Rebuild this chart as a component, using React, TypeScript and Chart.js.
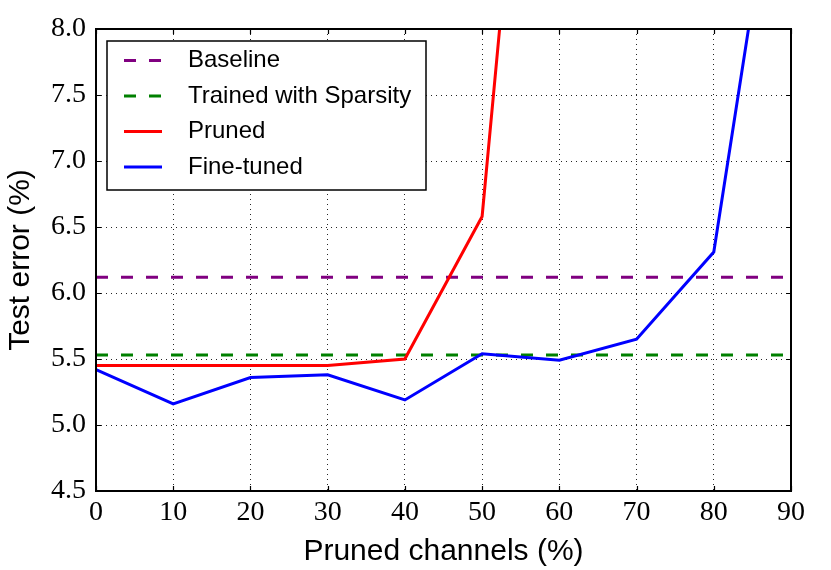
import React, { useEffect, useRef } from 'react';
import { Chart, registerables } from 'chart.js';
Chart.register(...registerables);

const channels = [0, 10, 20, 30, 40, 50, 60, 70, 80, 90];
const baseline = [6.12, 6.12, 6.12, 6.12, 6.12, 6.12, 6.12, 6.12, 6.12, 6.12];
const sparsity = [5.53, 5.53, 5.53, 5.53, 5.53, 5.53, 5.53, 5.53, 5.53, 5.53];
const pruned = [5.45, 5.45, 5.45, 5.45, 5.5, 6.58, 12.85, null, null, null];
const fineTuned = [5.42, 5.16, 5.36, 5.38, 5.19, 5.54, 5.49, 5.65, 6.31, 10.07];
const seriesLabels = ['Baseline', 'Trained with Sparsity', 'Pruned', 'Fine-tuned'];
const xLabel = 'Pruned channels (%)';
const yLabel = 'Test error (%)';

const toPts = (arr: (number | null)[]) => channels.map((x, i) => ({ x, y: arr[i] }));

const framePlugin = {
  id: 'frameTicks',
  afterDatasetsDraw(chart: any) {
    const { ctx, chartArea: a, scales } = chart;
    ctx.save();
    ctx.strokeStyle = '#000';
    ctx.lineWidth = 1.2;
    const tl = 5;
    scales.x.ticks.forEach((t: any) => {
      const px = Math.round(scales.x.getPixelForValue(t.value)) + 0.5;
      ctx.beginPath();
      ctx.moveTo(px, a.bottom); ctx.lineTo(px, a.bottom - tl);
      ctx.moveTo(px, a.top); ctx.lineTo(px, a.top + tl);
      ctx.stroke();
    });
    scales.y.ticks.forEach((t: any) => {
      const py = Math.round(scales.y.getPixelForValue(t.value)) + 0.5;
      ctx.beginPath();
      ctx.moveTo(a.left, py); ctx.lineTo(a.left + tl, py);
      ctx.moveTo(a.right, py); ctx.lineTo(a.right - tl, py);
      ctx.stroke();
    });
    ctx.lineWidth = 2;
    ctx.strokeRect(a.left, a.top, a.right - a.left, a.bottom - a.top);
    ctx.restore();
  },
  afterDraw(chart: any) {
    const { ctx, chartArea: a } = chart;
    const x0 = a.left + 11, y0 = a.top + 12, w = 319, h = 149;
    ctx.save();
    ctx.fillStyle = '#fff';
    ctx.fillRect(x0, y0, w, h);
    ctx.strokeStyle = '#000';
    ctx.lineWidth = 1.5;
    ctx.strokeRect(x0, y0, w, h);
    chart.data.datasets.forEach((ds: any, i: number) => {
      const y = y0 + 19.5 + i * 35.5;
      ctx.setLineDash(ds.borderDash || []);
      ctx.strokeStyle = ds.borderColor;
      ctx.lineWidth = ds.borderWidth;
      ctx.beginPath();
      ctx.moveTo(x0 + 17, y);
      ctx.lineTo(x0 + 55, y);
      ctx.stroke();
      ctx.setLineDash([]);
      ctx.fillStyle = '#000';
      ctx.font = '24px "Liberation Sans", Arial, sans-serif';
      ctx.textBaseline = 'middle';
      ctx.textAlign = 'left';
      ctx.fillText(ds.label, x0 + 81, y);
    });
    ctx.restore();
  },
};

export default function App() {
  const ref = useRef<HTMLCanvasElement>(null);
  useEffect(() => {
    if (!ref.current) return;
    const tickFont = { family: '"Liberation Serif", serif', size: 28 };
    const titleFont = { family: '"Liberation Sans", Arial, sans-serif', size: 30 };
    const chart = new Chart(ref.current, {
      type: 'line',
      data: {
        datasets: [
          { label: seriesLabels[0], data: toPts(baseline), borderColor: '#800080', borderWidth: 3, borderDash: [12, 13], pointRadius: 0, order: 4 },
          { label: seriesLabels[1], data: toPts(sparsity), borderColor: '#008000', borderWidth: 3, borderDash: [12, 13], pointRadius: 0, order: 3 },
          { label: seriesLabels[2], data: toPts(pruned), borderColor: '#ff0000', borderWidth: 3, pointRadius: 0, order: 2 },
          { label: seriesLabels[3], data: toPts(fineTuned), borderColor: '#0000ff', borderWidth: 3, pointRadius: 0, order: 1 },
        ] as any,
      },
      options: {
        animation: false,
        responsive: false,
        maintainAspectRatio: false,
        layout: { padding: { left: 0, top: 29, right: 40, bottom: 0 } },
        plugins: { legend: { display: false }, tooltip: { enabled: false } },
        scales: {
          x: {
            type: 'linear', min: 0, max: 90,
            ticks: { stepSize: 10, font: tickFont, color: '#000', padding: 5, maxRotation: 0 },
            grid: { color: 'rgba(0,0,0,0.85)', lineWidth: 1, drawTicks: false },
            border: { display: false, dash: [1, 4] },
            title: { display: true, text: xLabel, font: titleFont, color: '#000', padding: { top: 2, bottom: 0 } },
            afterFit: (s: any) => { s.height = 79; },
          },
          y: {
            type: 'linear', min: 4.5, max: 8,
            ticks: { stepSize: 0.5, font: tickFont, color: '#000', padding: 10, callback: (v: any) => Number(v).toFixed(1) },
            grid: { color: 'rgba(0,0,0,0.85)', lineWidth: 1, drawTicks: false },
            border: { display: false, dash: [1, 4] },
            title: { display: true, text: yLabel, font: titleFont, color: '#000', padding: { top: 3, bottom: 0 } },
            afterFit: (s: any) => { s.width = 96; },
          },
        },
      },
      plugins: [framePlugin],
    });
    return () => chart.destroy();
  }, []);
  return (
    <div style={{ position: 'fixed', left: 0, top: 0, width: 831, height: 570, background: '#fff' }}>
      <canvas ref={ref} width={831} height={570} style={{ width: 831, height: 570, display: 'block' }} />
    </div>
  );
}
